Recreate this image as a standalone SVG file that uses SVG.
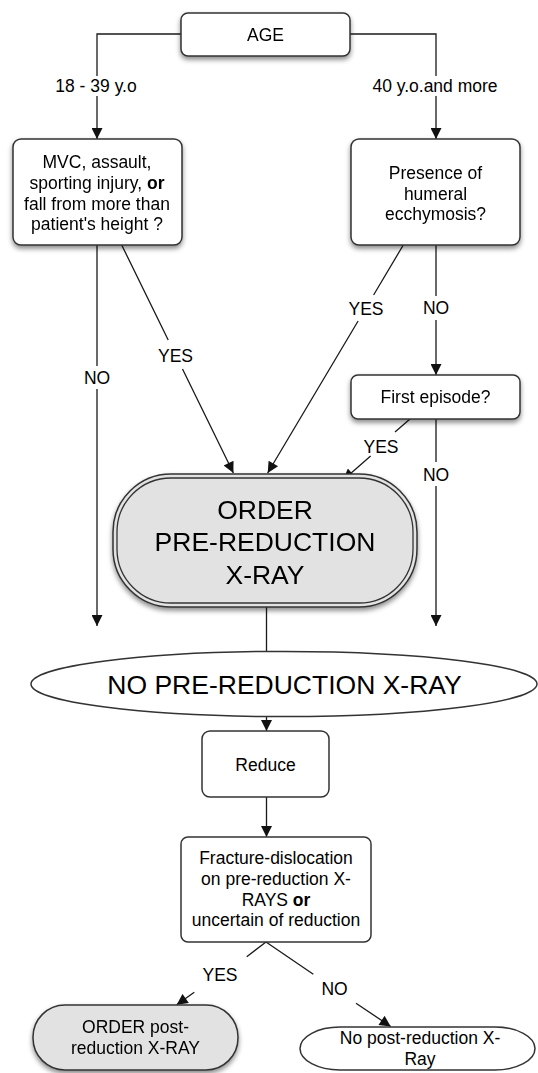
<svg xmlns="http://www.w3.org/2000/svg" width="538" height="1073" viewBox="0 0 538 1073">
<defs>
<filter id="sh" x="-10%" y="-10%" width="120%" height="140%">
<feDropShadow dx="0" dy="3" stdDeviation="2.5" flood-color="#000" flood-opacity="0.45"/>
</filter>
<marker id="ah" viewBox="0 0 10 10" markerUnits="userSpaceOnUse" markerWidth="13" markerHeight="11" refX="10" refY="5" orient="auto">
<path d="M0,0 L10,5 L0,10 z" fill="#111"/>
</marker>
<style>
.box{fill:#fff;stroke:#333;stroke-width:1.5}
.gray{fill:#e2e2e2;stroke:#333;stroke-width:1.5}
.t{font-family:"Liberation Sans",Arial,sans-serif;font-size:17.5px;fill:#000;text-anchor:middle}
.big{font-family:"Liberation Sans",Arial,sans-serif;font-size:26.5px;fill:#000;text-anchor:middle}
.lbl{font-family:"Liberation Sans",Arial,sans-serif;font-size:17.5px;fill:#000;text-anchor:middle}
.c{fill:none;stroke:#1a1a1a;stroke-width:1.3}
.ca{fill:none;stroke:#1a1a1a;stroke-width:1.3;marker-end:url(#ah)}
</style>
</defs>
<rect width="538" height="1073" fill="#fff"/>

<g id="connectors">
<path class="ca" d="M181 34 H97 V76 M97 96 V139"/>
<path class="ca" d="M350 34 H436 V76 M436 96 V139"/>
<path class="ca" d="M97 245 V366 M97 389 V626"/>
<path class="ca" d="M121.7 245 L168.2 340 M182.5 369 L233.4 473"/>
<path class="ca" d="M403.3 245 L373.6 295 M358.1 321 L267.7 473"/>
<path class="ca" d="M436 245 V296 M436 320 V375"/>
<path class="ca" d="M410 419 L395 432 M370.6 456 L343.2 480"/>
<path class="ca" d="M436 419 V462 M436 486 V626"/>
<path class="c" d="M266.5 607 V652"/>
<path class="ca" d="M266.5 717 V731"/>
<path class="ca" d="M266.5 797 V837"/>
<path class="ca" d="M266 942 L246.7 956.7 M194.3 992.3 L176.7 1004.8"/>
<path class="ca" d="M266 942 L313.3 974.3 M356 1003.3 L390.7 1026.5"/>
<text class="lbl" x="96" y="91.5">18 - 39 y.o</text>
<text class="lbl" x="435" y="91.5">40 y.o.and more</text>
<text class="lbl" x="97" y="384">NO</text>
<text class="lbl" x="175.5" y="361.5">YES</text>
<text class="lbl" x="366" y="315">YES</text>
<text class="lbl" x="436" y="314">NO</text>
<text class="lbl" x="381" y="452.5">YES</text>
<text class="lbl" x="436" y="480.5">NO</text>
<text class="lbl" x="220" y="980.5">YES</text>
<text class="lbl" x="334.5" y="994.5">NO</text>
</g>

<g id="age" filter="url(#sh)">
<rect class="box" x="181" y="13" width="169" height="43" rx="7"/>
<text class="t" x="265.5" y="41">AGE</text>
</g>

<g id="mechanism" filter="url(#sh)">
<rect class="box" x="13" y="139" width="169" height="106" rx="8"/>
<text class="t" x="97" y="167.5">MVC, assault,</text>
<text class="t" x="97" y="188.5">sporting injury, <tspan font-weight="bold">or</tspan></text>
<text class="t" x="97" y="209.5">fall from more than</text>
<text class="t" x="97" y="230">patient's height ?</text>
</g>

<g id="ecchymosis" filter="url(#sh)">
<rect class="box" x="351" y="139" width="169" height="106" rx="8"/>
<text class="t" x="435.5" y="178.5">Presence of</text>
<text class="t" x="435.5" y="199.5">humeral</text>
<text class="t" x="435.5" y="220">ecchymosis?</text>
</g>

<g id="first-episode" filter="url(#sh)">
<rect class="box" x="351" y="375" width="169" height="44" rx="7"/>
<text class="t" x="435.5" y="403">First episode?</text>
</g>

<g id="order-pre" filter="url(#sh)">
<rect class="gray" x="113" y="474" width="304" height="133" rx="58"/>
<rect x="117" y="478" width="296" height="125" rx="54" fill="none" stroke="#333" stroke-width="1.3"/>
<text class="big" x="265" y="518.5">ORDER</text>
<text class="big" x="265" y="551">PRE-REDUCTION</text>
<text class="big" x="265" y="583.5">X-RAY</text>
</g>

<g id="no-pre">
<ellipse class="box" cx="284" cy="684" rx="253" ry="32.6" stroke-width="1.3"/>
<text class="big" x="284.5" y="694">NO PRE-REDUCTION X-RAY</text>
</g>

<g id="reduce">
<rect class="box" x="202" y="731" width="127" height="66" rx="8" stroke-width="1.3"/>
<text class="t" x="265.5" y="771">Reduce</text>
</g>

<g id="fracture">
<rect class="box" x="181" y="837" width="190" height="105" rx="7" stroke-width="1.3"/>
<text class="t" x="276" y="863.5">Fracture-dislocation</text>
<text class="t" x="276" y="885">on pre-reduction X-</text>
<text class="t" x="276" y="905.5">RAYS <tspan font-weight="bold">or</tspan></text>
<text class="t" x="276" y="926">uncertain of reduction</text>
</g>

<g id="order-post" filter="url(#sh)">
<rect class="gray" x="33" y="1005" width="205" height="65" rx="32"/>
<text class="t" x="135.5" y="1032.5">ORDER post-</text>
<text class="t" x="135.5" y="1053.5">reduction X-RAY</text>
</g>

<g id="no-post">
<rect class="box" x="300" y="1027" width="235" height="43" rx="40" ry="21.5" stroke-width="1.3"/>
<text class="t" x="420" y="1044">No post-reduction X-</text>
<text class="t" x="420" y="1064.5">Ray</text>
</g>
</svg>
